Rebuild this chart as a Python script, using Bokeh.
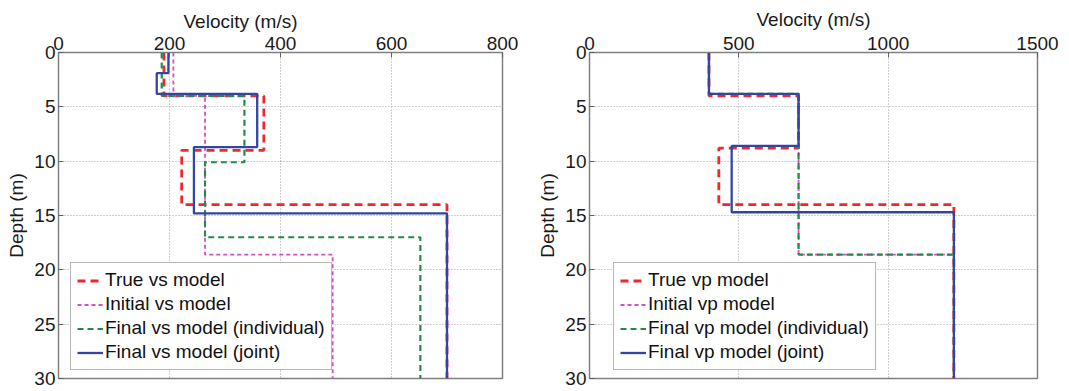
from bokeh.plotting import figure
from bokeh.layouts import row
from bokeh.models import Range1d, Legend, LegendItem, FixedTicker
from bokeh.embed import file_html
from bokeh.resources import INLINE

# ---- data: layer velocities and layer top depths ----
vs_true = [190, 370, 222, 700]
vs_true_tops = [0, 4, 9, 14]
vs_init = [207, 264, 494]
vs_init_tops = [0, 4, 18.6]
vs_ind = [186, 335, 264, 652]
vs_ind_tops = [0, 4, 10.1, 17]
vs_joint = [198, 177, 358, 244, 700]
vs_joint_tops = [0, 1.9, 3.8, 8.7, 14.8]

vp_true = [400, 700, 433, 1220]
vp_true_tops = [0, 4, 8.8, 14]
vp_init = [400, 700, 1220]
vp_init_tops = [0, 3.8, 18.6]
vp_ind = [400, 700, 1220]
vp_ind_tops = [0, 3.8, 18.6]
vp_joint = [400, 700, 476, 1220]
vp_joint_tops = [0, 3.8, 8.6, 14.7]

max_depth = 30
vs_ticks = [0, 200, 400, 600, 800]
vp_ticks = [0, 500, 1000, 1500]
depth_ticks = [0, 5, 10, 15, 20, 25, 30]

labels_vs = ["True vs model", "Initial vs model", "Final vs model (individual)", "Final vs model (joint)"]
labels_vp = ["True vp model", "Initial vp model", "Final vp model (individual)", "Final vp model (joint)"]

FONT = "Liberation Sans"
FS = "19px"
styles = [
    dict(color="#f02828", line_width=2.8, line_dash="8 5"),
    dict(color="#d050c8", line_width=1.8, line_dash="4 3"),
    dict(color="#28884a", line_width=2.2, line_dash="6 4"),
    dict(color="#3444a4", line_width=2.3, line_dash="solid"),
]


def step_path(vels, tops, bottom):
    xs, ys = [], []
    bounds = list(tops) + [bottom]
    for i, v in enumerate(vels):
        xs += [v, v]
        ys += [bounds[i], bounds[i + 1]]
    return xs, ys


def make_panel(series, labels, xmax, xticks, width, border_left, frame_w, legend_loc,
               xlabel_offset=None):
    p = figure(width=width, height=390, output_backend="svg", toolbar_location=None,
               x_range=Range1d(0, xmax), y_range=Range1d(max_depth, 0),
               x_axis_location="above", min_border_left=border_left,
               min_border_right=width - border_left - frame_w,
               min_border_top=52, min_border_bottom=12)
    p.outline_line_color = "#808080"
    p.outline_line_width = 1.5
    p.background_fill_color = "white"
    p.border_fill_color = "white"
    p.xaxis.ticker = FixedTicker(ticks=xticks)
    p.yaxis.ticker = FixedTicker(ticks=depth_ticks)
    for ax in (p.xaxis[0], p.yaxis[0]):
        ax.major_tick_in = 5
        ax.major_tick_out = 0
        ax.minor_tick_line_color = None
        ax.axis_line_color = "#808080"
        ax.major_tick_line_color = "#606060"
        ax.major_label_text_font = FONT
        ax.major_label_text_font_size = FS
        ax.major_label_text_color = "#1a1a1a"
        ax.axis_label_text_font = FONT
        ax.axis_label_text_font_size = FS
        ax.axis_label_text_font_style = "normal"
        ax.axis_label_text_color = "#1a1a1a"
    if xlabel_offset is None:
        p.xaxis.axis_label = "Velocity (m/s)"
    else:
        p.title.text = "Velocity (m/s)"
        p.title.align = "left"
        p.title.offset = xlabel_offset
        p.title.text_font = FONT
        p.title.text_font_size = FS
        p.title.text_font_style = "normal"
        p.title.text_color = "#1a1a1a"
        p.title.standoff = 4
    p.yaxis.axis_label = "Depth (m)"
    p.xaxis.major_label_standoff = 3
    p.xaxis.axis_label_standoff = 4
    p.yaxis.major_label_standoff = 3
    p.yaxis.axis_label_standoff = 4
    p.grid.grid_line_color = "#a0a0a0"
    p.grid.grid_line_dash = "1 2"
    p.grid.grid_line_width = 1

    items = []
    for (vels, tops), lab, st in zip(series, labels, styles):
        xs, ys = step_path(vels, tops, max_depth)
        r = p.line(xs, ys, **st)
        items.append(LegendItem(label=lab, renderers=[r]))
    leg = Legend(items=items, location=legend_loc)
    leg.label_text_font = FONT
    leg.label_text_font_size = FS
    leg.label_text_color = "#111111"
    leg.glyph_width = 26
    leg.glyph_height = 21
    leg.label_height = 21
    leg.spacing = 2
    leg.padding = 6
    leg.margin = 0
    leg.label_standoff = 2
    leg.border_line_color = "#707070"
    leg.border_line_width = 1.2
    leg.background_fill_alpha = 1
    p.add_layout(leg, "center")
    return p


p1 = make_panel([(vs_true, vs_true_tops), (vs_init, vs_init_tops),
                 (vs_ind, vs_ind_tops), (vs_joint, vs_joint_tops)],
                labels_vs, 800, vs_ticks, 530, 58, 444, (12, 8), xlabel_offset=125)
p2 = make_panel([(vp_true, vp_true_tops), (vp_init, vp_init_tops),
                 (vp_ind, vp_ind_tops), (vp_joint, vp_joint_tops)],
                labels_vp, 1500, vp_ticks, 532, 59, 448, (24, 8))

layout = row(p1, p2, spacing=0)
open("out.html", "w").write(file_html(layout, INLINE))
